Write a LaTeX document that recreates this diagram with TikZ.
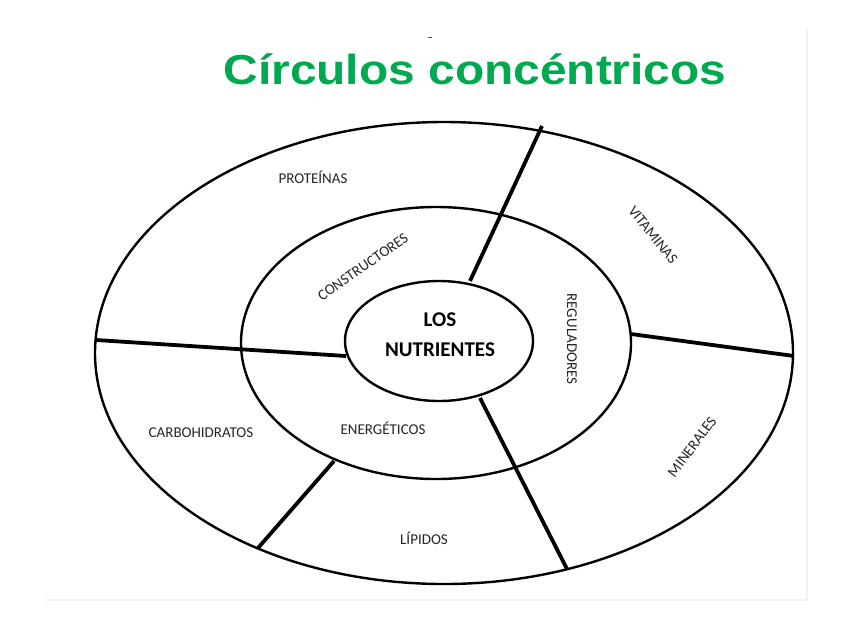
\documentclass[tikz,border=0pt]{standalone}
\usepackage{fontspec}
\usepackage{graphicx}
\setmainfont{Carlito}
\newfontfamily\titlefont{Liberation Sans}
\usetikzlibrary{shapes.geometric}
\definecolor{titlegreen}{RGB}{0,168,80}
\definecolor{markred}{RGB}{200,30,30}
\begin{document}
\begin{tikzpicture}[x=1pt,y=-1pt,
  ring/.style={draw=black, line width=2.4pt, ellipse, inner sep=0pt},
  divider/.style={draw=black, line width=3.8pt, line cap=butt},
  lbl/.style={font=\fontsize{15}{17}\selectfont, text=black!85, text height=9.6pt, text depth=0pt, inner sep=0pt, anchor=center},
]
\useasboundingbox (0,0) rectangle (853,638);
\fill[white] (0,0) rectangle (853,638);
% faint photo border
\draw[black!5, line width=2pt] (45,600) -- (807,600) -- (807,30);
% title
\node[font=\titlefont\bfseries\fontsize{42}{48}\selectfont, text=titlegreen, anchor=base, inner sep=0pt] (title) at (475,84) {\scalebox{1.14}[1]{Círculos concéntricos}};
\draw[markred, line width=1pt] (428,37) -- (432,37);
% rings
\node[ring, minimum width=698pt, minimum height=462pt] (outer) at (444,353) {};
\node[ring, minimum width=390pt, minimum height=272pt] (middle) at (436,343) {};
\node[ring, minimum width=188pt, minimum height=120pt] (inner) at (439,341) {};
% divider end points
\coordinate (a1) at (542,126); \coordinate (a2) at (470,281);
\coordinate (b1) at (96,340);  \coordinate (b2) at (346,356);
\coordinate (c1) at (334,461); \coordinate (c2) at (258,548);
\coordinate (d1) at (480,398); \coordinate (d2) at (567,569);
\coordinate (e1) at (631,334); \coordinate (e2) at (794,356);
\draw[divider] (a1) -- (a2);
\draw[divider] (b1) -- (b2);
\draw[divider] (c1) -- (c2);
\draw[divider] (d1) -- (d2);
\draw[divider] (e1) -- (e2);
% center text
\node[font=\bfseries\fontsize{21}{30}\selectfont, align=center, inner sep=0pt] (center) at (440,335) {LOS\\NUTRIENTES};
% labels
\node[lbl] (proteinas) at (313,179) {PROTEÍNAS};
\node[lbl, rotate=-51] (vitaminas) at (653,235) {VITAMINAS};
\node[lbl, rotate=35] (constructores) at (363,267) {CONSTRUCTORES};
\node[lbl, rotate=-90] (reguladores) at (572,339) {REGULADORES};
\node[lbl] (carbohidratos) at (201,433) {CARBOHIDRATOS};
\node[lbl] (energeticos) at (383,430) {ENERGÉTICOS};
\node[lbl, rotate=53] (minerales) at (692,447) {MINERALES};
\node[lbl] (lipidos) at (424,540) {LÍPIDOS};
\end{tikzpicture}
\end{document}
